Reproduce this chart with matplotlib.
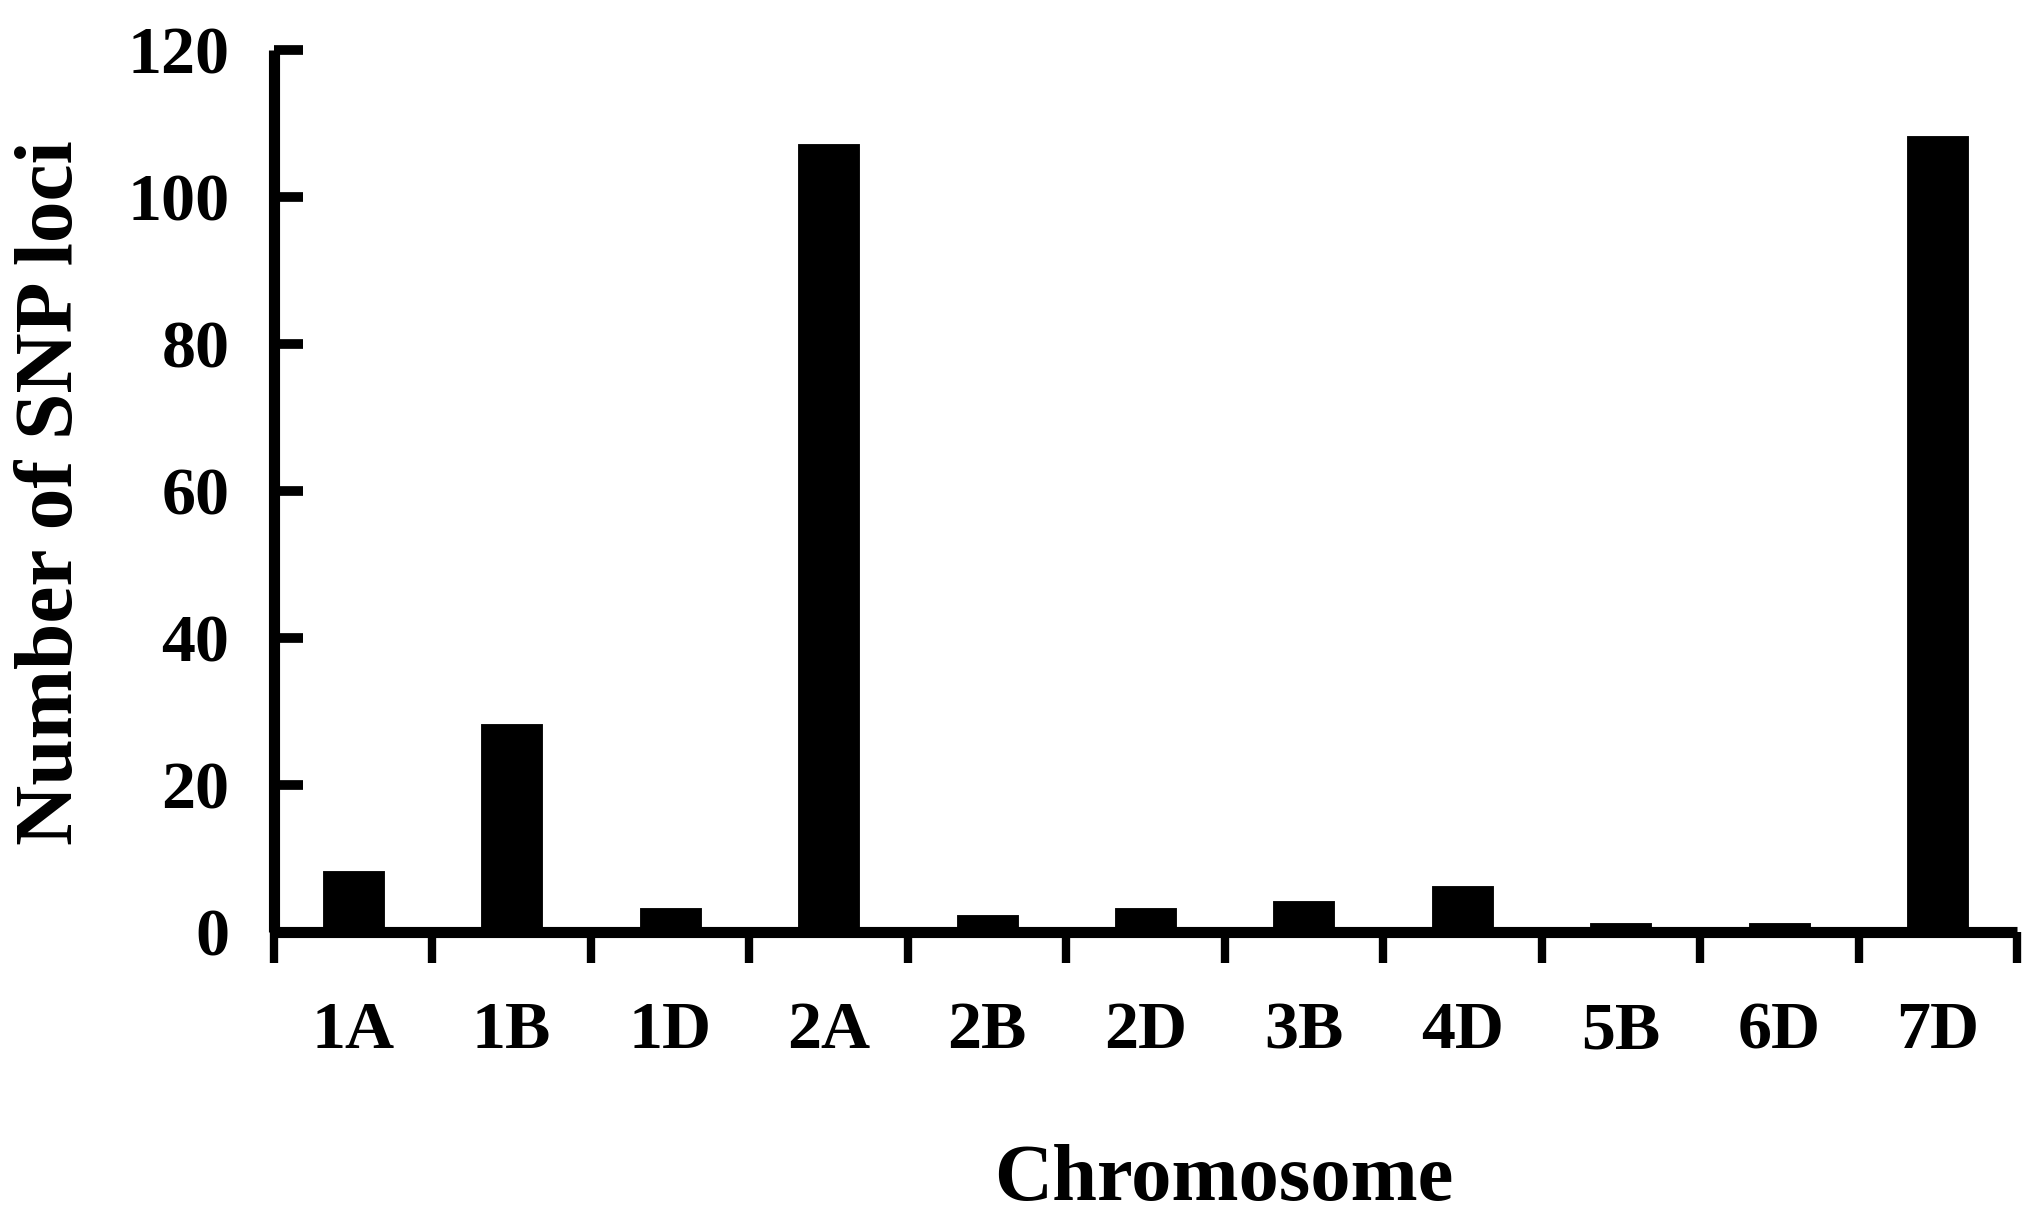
import matplotlib
matplotlib.use('Agg')
from matplotlib import pyplot as plt
import numpy as np

chromosomes = ['1A', '1B', '1D', '2A', '2B', '2D', '3B', '4D', '5B', '6D', '7D']
snp_counts = [8, 28, 3, 107, 2, 3, 4, 6, 1, 1, 108]
y_ticks = [0, 20, 40, 60, 80, 100, 120]

plt.rcParams['font.family'] = ['Liberation Serif', 'DejaVu Serif']
plt.rcParams['font.weight'] = 'bold'

fig = plt.figure(figsize=(20.43, 12.25), dpi=100)
ax = fig.add_axes([274 / 2043, 1 - 932 / 1225, (2017 - 274) / 2043, (932 - 50) / 1225])

x = np.arange(len(chromosomes))
ax.bar(x, snp_counts, width=0.36, color='black', edgecolor='black', linewidth=3.5)

ax.set_xlim(-0.5, len(chromosomes) - 0.5)
ax.set_ylim(0, 120)

for side in ['top', 'right']:
    ax.spines[side].set_visible(False)
for side in ['left', 'bottom']:
    ax.spines[side].set_linewidth(8)
    ax.spines[side].set_capstyle('butt')

# category labels at bar centres, tick marks between categories
ax.set_xticks(x)
ax.set_xticklabels(chromosomes)
ax.set_xticks(np.arange(-0.5, len(chromosomes)), minor=True)
ax.tick_params(axis='x', which='major', length=0, pad=50, labelsize=49)
ax.tick_params(axis='x', which='minor', length=22, width=6, direction='out')

ax.set_yticks(y_ticks)
ax.tick_params(axis='y', which='major', length=21, width=7, direction='in',
               pad=32, labelsize=49)

for lab in ax.get_xticklabels() + ax.get_yticklabels():
    lab.set_fontweight('bold')

fig.text(52 / 2043, 1 - 493 / 1225, 'Number of SNP loci', rotation=90,
         ha='center', va='center', fontsize=60, fontweight='bold')
fig.text(1224 / 2043, 1 - 1200 / 1225, 'Chromosome', ha='center',
         va='baseline', fontsize=58, fontweight='bold')

fig.savefig('out.png', dpi=100)
